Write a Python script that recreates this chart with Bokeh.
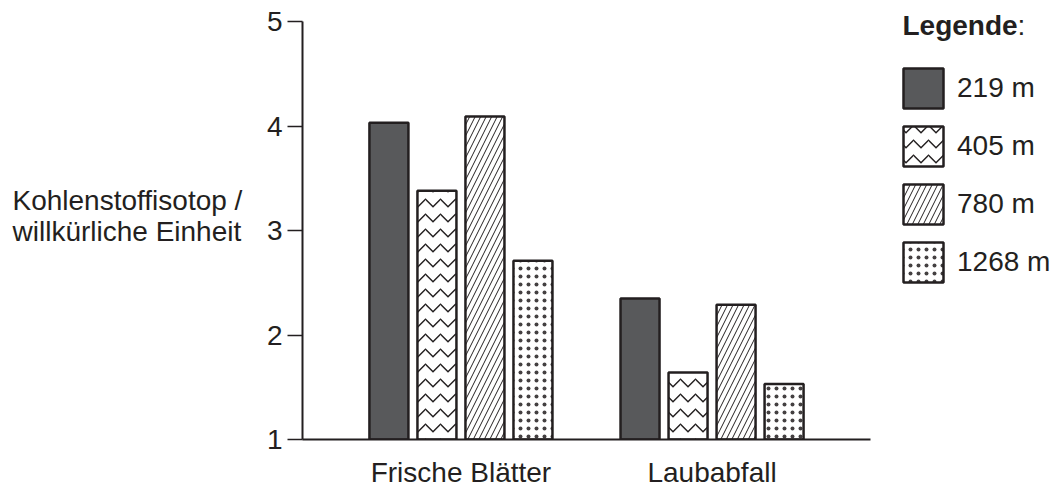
from bokeh.plotting import figure
from bokeh.models import (ColumnDataSource, Range1d, FixedTicker, Label, FactorRange,
                          Legend, LegendItem)
from bokeh.layouts import row
from bokeh.transform import dodge
from bokeh.embed import file_html
from bokeh.resources import INLINE

# ---- data ----
categories = ["Frische Blätter", "Laubabfall"]
series_names = ["219 m", "405 m", "780 m", "1268 m"]
values_219 = [4.03, 2.35]
values_405 = [3.38, 1.64]
values_780 = [4.09, 2.29]
values_1268 = [2.71, 1.53]
y_ticks = [1, 2, 3, 4, 5]
y_label_lines = ["Kohlenstoffisotop /", "willkürliche Einheit"]
legend_title = "Legende"

# ---- style ----
FONT = "Liberation Sans"
FS = "28px"
INK = "#231f20"
DARK = "#58595b"
H = 493
BOTTOM = 54          # space below the frame (x tick labels)
FB = H - BOTTOM      # frame bottom in page pixels

source = ColumnDataSource(dict(cat=categories, v219=values_219, v405=values_405,
                               v780=values_780, v1268=values_1268))

styles = [
    dict(field="v219", fill_color=DARK, hatch_pattern=None, hatch_scale=12, hatch_weight=1, hatch_alpha=1),
    dict(field="v405", fill_color="white", hatch_pattern="horizontal_wave", hatch_scale=15, hatch_weight=1.5, hatch_alpha=1),
    dict(field="v780", fill_color="white", hatch_pattern="right_diagonal_line", hatch_scale=11, hatch_weight=1, hatch_alpha=1),
    dict(field="v1268", fill_color="white", hatch_pattern="dot", hatch_scale=8, hatch_weight=0.1, hatch_alpha=0.85),
]
pitch = 0.1912
bar_w = 0.1553


def bare(width):
    f = figure(width=width, height=H, x_range=FactorRange(factors=categories), y_range=Range1d(1, 5),
               output_backend="svg", toolbar_location=None,
               x_axis_location=None, y_axis_location=None,
               min_border_left=0, min_border_right=0, min_border_top=0, min_border_bottom=BOTTOM)
    f.outline_line_color = None
    f.grid.visible = False
    f.background_fill_color = "white"
    f.border_fill_color = "white"
    return f


def add_bars(fig, visible=True):
    rs = []
    for i, st in enumerate(styles):
        kw = {}
        if st["hatch_pattern"]:
            kw = dict(hatch_pattern=st["hatch_pattern"], hatch_scale=st["hatch_scale"],
                      hatch_weight=st["hatch_weight"], hatch_alpha=st["hatch_alpha"],
                      hatch_color=INK)
        r = fig.vbar(x=dodge("cat", (i - 1.5) * pitch, range=fig.x_range), top=st["field"], bottom=1,
                     width=bar_w, source=source, fill_color=st["fill_color"], line_color=INK,
                     line_width=2.5, visible=visible, **kw)
        rs.append(r)
    return rs


# ---- left: y axis title ----
left = bare(260)
for txt, py in zip(y_label_lines, [200, 231]):
    left.add_layout(Label(x=12, y=FB - py, x_units="screen", y_units="screen", text=txt,
                          text_font=FONT, text_font_size=FS, text_color=INK,
                          text_baseline="middle", text_align="left"))

# ---- main chart ----
x_range = FactorRange(factors=categories, range_padding=0.131, range_padding_units="absolute")
top_gap = 21
y_end = 1 + (max(y_ticks) - 1) * FB / (FB - top_gap)
p = figure(width=620, height=H, x_range=x_range, y_range=Range1d(1, y_end),
           output_backend="svg", toolbar_location=None,
           min_border_left=42, min_border_right=10, min_border_top=0, min_border_bottom=BOTTOM)
p.outline_line_color = None
p.grid.visible = False
p.background_fill_color = "white"
p.border_fill_color = "white"
add_bars(p)

yax = p.yaxis[0]
yax.ticker = FixedTicker(ticks=y_ticks)
yax.bounds = (min(y_ticks), max(y_ticks))
yax.minor_tick_line_color = None
yax.major_tick_out = 15
yax.major_tick_in = 0
yax.major_tick_line_width = 1.5
yax.major_tick_line_color = INK
yax.axis_line_width = 2
yax.axis_line_color = INK
yax.major_label_standoff = 5
yax.major_label_text_font = FONT
yax.major_label_text_font_size = FS
yax.major_label_text_color = INK

xax = p.xaxis[0]
xax.major_tick_line_color = None
xax.minor_tick_line_color = None
xax.major_tick_out = 0
xax.major_tick_in = 0
xax.axis_line_width = 2
xax.axis_line_color = INK
xax.major_label_standoff = 17
xax.major_label_text_font = FONT
xax.major_label_text_font_size = FS
xax.major_label_text_color = INK

# ---- right: legend ----
right = bare(1058 - 880)
legend_renderers = add_bars(right, visible=False)
items = [LegendItem(label=n, renderers=[r]) for n, r in zip(series_names, legend_renderers)]
lg = Legend(items=items, location=(18, FB - 287), click_policy="none")
lg.glyph_width = 50
lg.glyph_height = 50
lg.label_height = 50
lg.label_standoff = 9
lg.spacing = 8
lg.padding = 0
lg.margin = 0
lg.border_line_alpha = 0
lg.background_fill_alpha = 0
lg.label_text_font = FONT
lg.label_text_font_size = FS
lg.label_text_color = INK
right.add_layout(lg)

right.add_layout(Label(x=22, y=FB - 25, x_units="screen", y_units="screen", text=legend_title,
                       text_font=FONT, text_font_size=FS, text_font_style="bold", text_color=INK,
                       text_baseline="middle", text_align="left"))
right.add_layout(Label(x=137, y=FB - 25, x_units="screen", y_units="screen", text=":",
                       text_font=FONT, text_font_size=FS, text_color=INK,
                       text_baseline="middle", text_align="left"))

layout = row(left, p, right, spacing=0)
open("out.html", "w").write(file_html(layout, INLINE))
